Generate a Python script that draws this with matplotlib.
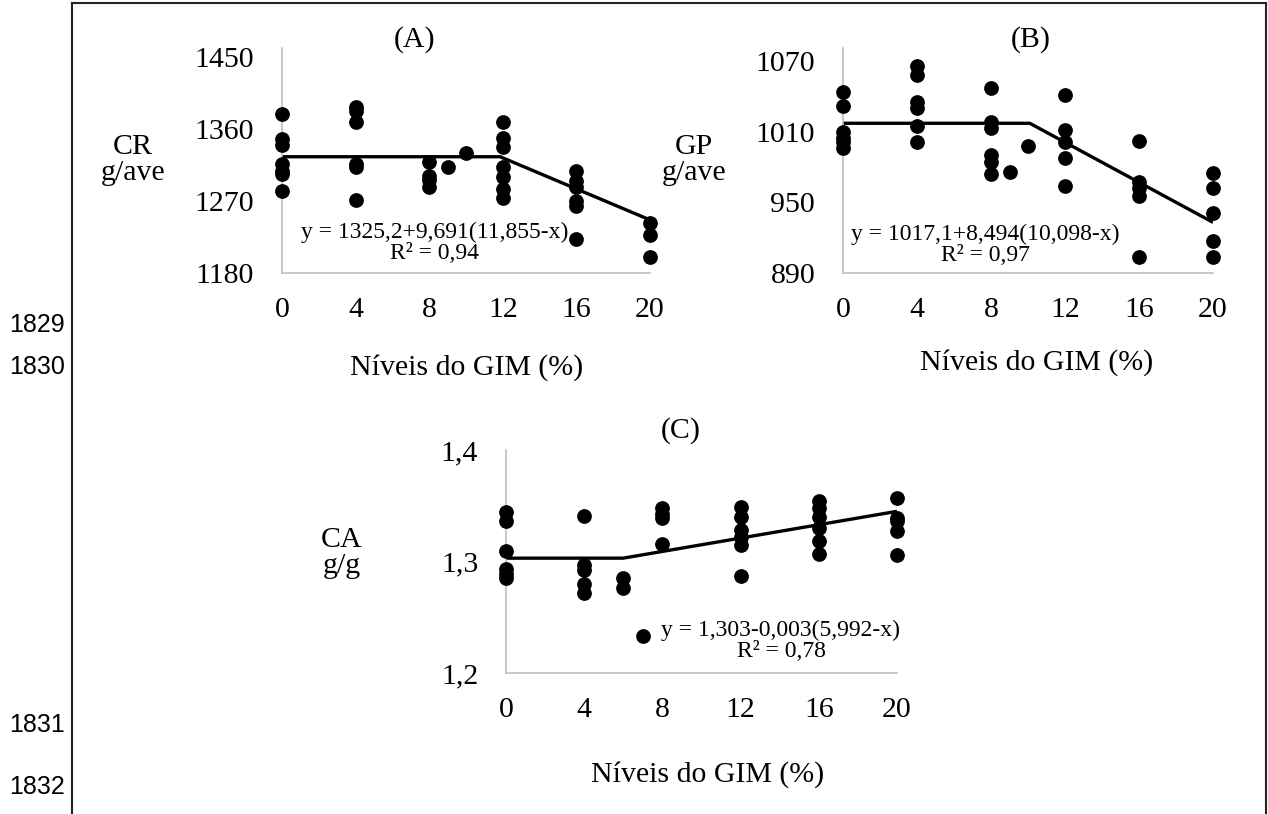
import matplotlib
matplotlib.use('Agg')
import matplotlib.pyplot as plt
from matplotlib.lines import Line2D

plt.rcParams['font.family'] = ['Liberation Serif', 'DejaVu Serif']

W, H = 1268, 814

# --- panel A: CR (g/ave) ---
a_x = [0, 0, 0, 0, 0, 0, 0,
       4, 4, 4, 4, 4, 4,
       8, 8, 8, 8, 9, 10,
       12, 12, 12, 12, 12, 12, 12,
       16, 16, 16, 16, 16, 16,
       20, 20, 20]
a_y = [1378, 1347, 1340, 1316, 1308, 1304, 1282,
       1387, 1382, 1368, 1316, 1312, 1271,
       1319, 1301, 1296, 1288, 1313, 1330,
       1369, 1349, 1337, 1312, 1300, 1285, 1274,
       1308, 1295, 1287, 1270, 1264, 1222,
       1243, 1228, 1200]
a_line_x = [0, 11.855, 20]
a_line_y = [1325.2, 1325.2, 1246.3]
a_ticks = [1180, 1270, 1360, 1450]

# --- panel B: GP (g/ave) ---
b_x = [0, 0, 0, 0, 0, 0,
       4, 4, 4, 4, 4, 4,
       8, 8, 8, 8, 8, 8, 9, 10,
       12, 12, 12, 12, 12,
       16, 16, 16, 16, 16,
       20, 20, 20, 20, 20]
b_y = [1044, 1032, 1010, 1005, 1001, 996,
       1066, 1058, 1035, 1030, 1015, 1001,
       1047, 1018, 1013, 990, 984, 974, 976, 998,
       1041, 1011, 1001, 988, 964,
       1002, 967, 962, 955, 904,
       975, 962, 941, 917, 904]
b_line_x = [0, 10.098, 20]
b_line_y = [1017.1, 1017.1, 933.0]
b_ticks = [890, 950, 1010, 1070]

# --- panel C: CA (g/g) ---
c_x = [0, 0, 0, 0, 0, 0,
       4, 4, 4, 4, 4,
       6, 6, 7,
       8, 8, 8, 8,
       12, 12, 12, 12, 12, 12,
       16, 16, 16, 16, 16, 16,
       20, 20, 20, 20, 20]
c_y = [1.344, 1.336, 1.309, 1.293, 1.289, 1.285,
       1.341, 1.297, 1.292, 1.280, 1.272,
       1.285, 1.276, 1.233,
       1.348, 1.343, 1.339, 1.316,
       1.349, 1.340, 1.328, 1.322, 1.315, 1.287,
       1.354, 1.348, 1.340, 1.330, 1.318, 1.307,
       1.357, 1.339, 1.336, 1.327, 1.306]
c_line_x = [0, 5.992, 20]
c_line_y = [1.303, 1.303, 1.345]
c_ticks = [1.2, 1.3, 1.4]
c_tick_labels = ['1,2', '1,3', '1,4']

x_ticks = [0, 4, 8, 12, 16, 20]


def px_axes(left, top, right, bottom):
    return [left / W, 1 - bottom / H, (right - left) / W, (bottom - top) / H]


def fx(x):
    return x / W


def fy(y):
    return 1 - y / H


fig = plt.figure(figsize=(W / 100, H / 100), dpi=100)


def panel(rect, xs, ys, lx, ly, yticks, ylim, ylabels=None):
    ax = fig.add_axes(rect)
    ax.plot(lx, ly, color='black', lw=2.4, solid_capstyle='butt', zorder=2)
    ax.plot(xs, ys, 'o', color='black', ms=9.6, clip_on=False, zorder=3)
    ax.set_xlim(0, 20)
    ax.set_ylim(*ylim)
    ax.set_xticks(x_ticks)
    ax.set_yticks(yticks)
    if ylabels:
        ax.set_yticklabels(ylabels)
    for s in ['top', 'right']:
        ax.spines[s].set_visible(False)
    for s in ['left', 'bottom']:
        ax.spines[s].set_color('#bfbfbf')
        ax.spines[s].set_linewidth(1.2)
    ax.tick_params(length=0, labelsize=21.5)
    ax.tick_params(axis='x', pad=17)
    ax.tick_params(axis='y', pad=20)
    ax.patch.set_alpha(0)
    return ax


panel(px_axes(282, 48, 650, 273), a_x, a_y, a_line_x, a_line_y, a_ticks, (1180, 1461))
panel(px_axes(843, 48, 1213, 273), b_x, b_y, b_line_x, b_line_y, b_ticks, (890, 1081))
panel(px_axes(506, 450, 897, 673), c_x, c_y, c_line_x, c_line_y, c_ticks, (1.2, 1.4), c_tick_labels)

# titles
fig.text(fx(415), fy(47), '(A)', ha='center', va='baseline', fontsize=21.5)
fig.text(fx(1031), fy(47), '(B)', ha='center', va='baseline', fontsize=21.5)
fig.text(fx(681), fy(438), '(C)', ha='center', va='baseline', fontsize=21.5)

# axis titles
fig.text(fx(133), fy(160), 'CR\ng/ave', ha='center', va='center', fontsize=21.5, linespacing=1.0)
fig.text(fx(694), fy(160), 'GP\ng/ave', ha='center', va='center', fontsize=21.5, linespacing=1.0)
fig.text(fx(342), fy(553), 'CA\ng/g', ha='center', va='center', fontsize=21.5, linespacing=1.0)

fig.text(fx(467), fy(375), 'Níveis do GIM (%)', ha='center', va='baseline', fontsize=21.5)
fig.text(fx(1037), fy(370), 'Níveis do GIM (%)', ha='center', va='baseline', fontsize=21.5)
fig.text(fx(708), fy(782), 'Níveis do GIM (%)', ha='center', va='baseline', fontsize=21.5)

# equations
fig.text(fx(435), fy(243), 'y = 1325,2+9,691(11,855-x)\nR² = 0,94', ha='center', va='center',
         fontsize=17, linespacing=1.05)
fig.text(fx(985), fy(245), 'y = 1017,1+8,494(10,098-x)\nR² = 0,97', ha='center', va='center',
         fontsize=17, linespacing=1.05)
fig.text(fx(781), fy(641), 'y = 1,303-0,003(5,992-x)\nR² = 0,78', ha='center', va='center',
         fontsize=17, linespacing=1.05)

# document line numbers
for num, yy in [('1829', 325), ('1830', 367), ('1831', 725), ('1832', 787)]:
    fig.text(fx(37), fy(yy), num, ha='center', va='center', fontsize=18,
             family='Liberation Sans')

# page frame
frame = dict(color='#222222', lw=1.5, transform=fig.transFigure)
fig.add_artist(Line2D([fx(72), fx(72)], [fy(3), 0], **frame))
fig.add_artist(Line2D([fx(72), fx(1266)], [fy(3), fy(3)], **frame))
fig.add_artist(Line2D([fx(1266), fx(1266)], [fy(3), 0], **frame))

fig.savefig('out.png', dpi=100)
